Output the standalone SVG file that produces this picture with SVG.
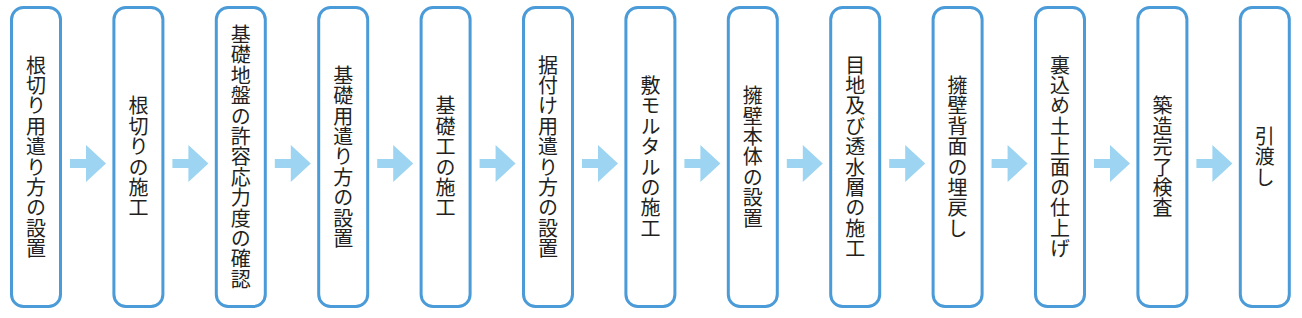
<svg xmlns="http://www.w3.org/2000/svg" width="1302" height="318" viewBox="0 0 1302 318">
<defs>
<style>
.box{fill:#fff;stroke:#4a9bd8;stroke-width:3}
.lbl{font-family:"Noto Sans CJK JP","Noto Sans CJK SC",sans-serif;font-size:20px;fill:#231f20;writing-mode:vertical-rl;text-anchor:middle;letter-spacing:0.4px}
.arr{fill:#9dd4f2}
</style>
<polygon id="arrow" points="0,159 16,159 16,145 36,163.5 16,182 16,168 0,168"/>
</defs>
<rect width="1302" height="318" fill="#fff"/>
<g id="connectors" class="arr">
<use href="#arrow" x="70"/>
<use href="#arrow" x="172.4"/>
<use href="#arrow" x="274.8"/>
<use href="#arrow" x="377.2"/>
<use href="#arrow" x="479.6"/>
<use href="#arrow" x="582"/>
<use href="#arrow" x="684.4"/>
<use href="#arrow" x="786.8"/>
<use href="#arrow" x="889.2"/>
<use href="#arrow" x="991.6"/>
<use href="#arrow" x="1094"/>
<use href="#arrow" x="1196.4"/>
</g>
<g id="n1"><rect class="box" x="11.5" y="7.5" width="49" height="299" rx="12"/><text class="lbl" x="36" y="157">根切り用遣り方の設置</text></g>
<g id="n2"><rect class="box" x="113.9" y="7.5" width="49" height="299" rx="12"/><text class="lbl" x="138.4" y="157">根切りの施工</text></g>
<g id="n3"><rect class="box" x="216.3" y="7.5" width="49" height="299" rx="12"/><text class="lbl" x="240.8" y="157">基礎地盤の許容応力度の確認</text></g>
<g id="n4"><rect class="box" x="318.7" y="7.5" width="49" height="299" rx="12"/><text class="lbl" x="343.2" y="157">基礎用遣り方の設置</text></g>
<g id="n5"><rect class="box" x="421.1" y="7.5" width="49" height="299" rx="12"/><text class="lbl" x="445.6" y="157">基礎工の施工</text></g>
<g id="n6"><rect class="box" x="523.5" y="7.5" width="49" height="299" rx="12"/><text class="lbl" x="548" y="157">据付け用遣り方の設置</text></g>
<g id="n7"><rect class="box" x="625.9" y="7.5" width="49" height="299" rx="12"/><text class="lbl" x="650.4" y="157">敷モルタルの施工</text></g>
<g id="n8"><rect class="box" x="728.3" y="7.5" width="49" height="299" rx="12"/><text class="lbl" x="752.8" y="157">擁壁本体の設置</text></g>
<g id="n9"><rect class="box" x="830.7" y="7.5" width="49" height="299" rx="12"/><text class="lbl" x="855.2" y="157">目地及び透水層の施工</text></g>
<g id="n10"><rect class="box" x="933.1" y="7.5" width="49" height="299" rx="12"/><text class="lbl" x="957.6" y="157">擁壁背面の埋戻し</text></g>
<g id="n11"><rect class="box" x="1035.5" y="7.5" width="49" height="299" rx="12"/><text class="lbl" x="1060" y="157">裏込め土上面の仕上げ</text></g>
<g id="n12"><rect class="box" x="1137.9" y="7.5" width="49" height="299" rx="12"/><text class="lbl" x="1162.4" y="157">築造完了検査</text></g>
<g id="n13"><rect class="box" x="1240.3" y="7.5" width="49" height="299" rx="12"/><text class="lbl" x="1264.8" y="157">引渡し</text></g>
</svg>
